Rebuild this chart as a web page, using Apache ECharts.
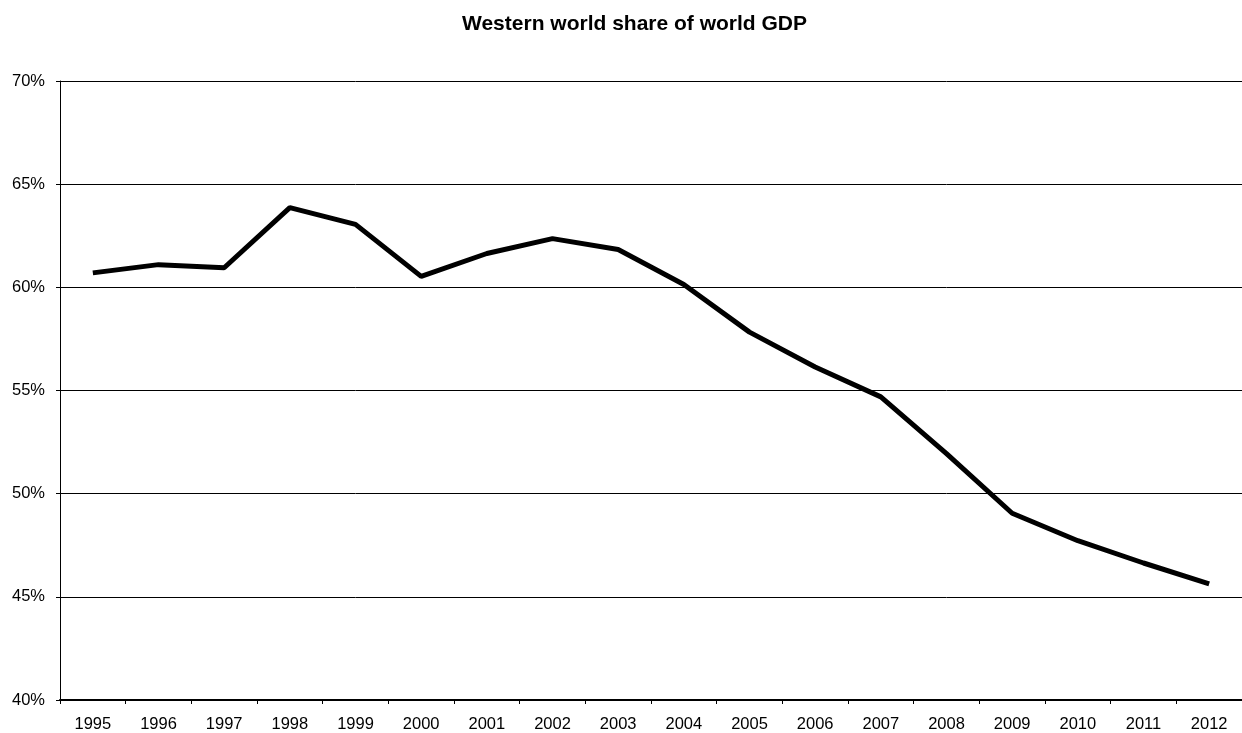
<!DOCTYPE html>
<html><head><meta charset="utf-8">
<script src="https://cdn.jsdelivr.net/npm/echarts@6/dist/echarts.min.js"></script>
<style>html,body{margin:0;padding:0;background:#fff}#c{width:1242px;height:733px}</style>
</head><body><div id="c"></div>
<script>
const years = ['1995','1996','1997','1998','1999','2000','2001','2002','2003','2004','2005','2006','2007','2008','2009','2010','2011','2012'];
const share = [60.7,61.1,60.95,63.86,63.05,60.53,61.64,62.36,61.83,60.14,57.83,56.14,54.69,51.94,49.05,47.72,46.64,45.63];
const chart = echarts.init(document.getElementById('c'));
const font = '"Liberation Sans", Arial, sans-serif';
chart.setOption({
  animation: false,
  title: {text: 'Western world share of world GDP', left: 457, top: 9,
    textStyle: {fontFamily: font, fontSize: 21, fontWeight: 'bold', color: '#000'}},
  grid: {left: 60, right: -10, top: 81, bottom: 31},
  xAxis: {type: 'category', data: years, boundaryGap: true,
    axisLine: {lineStyle: {color: '#000', width: 2}},
    axisTick: {show: true, length: 4, lineStyle: {color: '#000'}},
    axisLabel: {fontFamily: font, fontSize: 16.5, color: '#000', margin: 16}},
  yAxis: {type: 'value', min: 40, max: 70, interval: 5,
    axisLine: {show: true, lineStyle: {color: '#000', width: 1}},
    axisTick: {show: true, length: 4, lineStyle: {color: '#000'}},
    splitLine: {lineStyle: {color: '#000', width: 1}},
    axisLabel: {fontFamily: font, fontSize: 16.5, color: '#000', formatter: '{value}%', margin: 15}},
  series: [{type: 'line', data: share, symbol: 'none',
    lineStyle: {color: '#000', width: 5}}]
});
</script></body></html>
